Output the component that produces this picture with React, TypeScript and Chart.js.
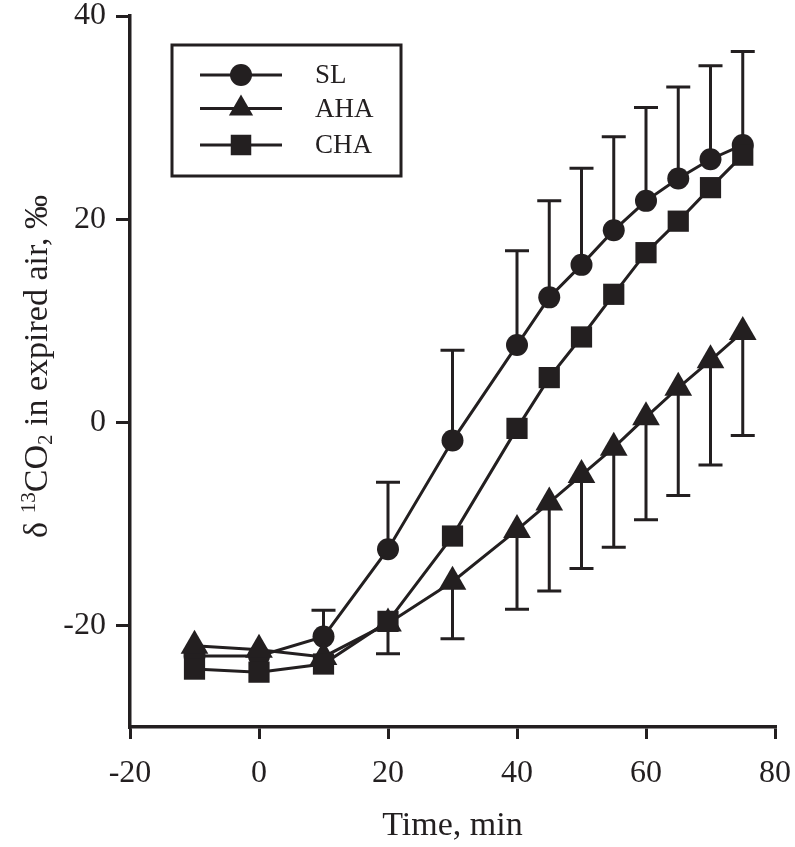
import React, { useEffect, useRef } from 'react';
import { Chart, registerables } from 'chart.js';

Chart.register(...registerables);

// ---- data ----
const times = [-10, 0, 10, 20, 30, 40, 45, 50, 55, 60, 65, 70, 75];
const slValues = [-23.0, -23.0, -21.1, -12.5, -1.8, 7.6, 12.3, 15.5, 18.9, 21.8, 24.0, 25.9, 27.3];
const slErrorTop = [null, null, -18.5, -5.9, 7.1, 16.9, 21.8, 25.0, 28.1, 31.0, 33.0, 35.1, 36.5];
const ahaValues = [-22.0, -22.4, -23.1, -19.8, -15.7, -10.6, -7.9, -5.2, -2.5, 0.5, 3.4, 6.1, 8.9];
const ahaErrorBottom = [null, null, null, -22.8, -21.3, -18.4, -16.6, -14.4, -12.3, -9.6, -7.2, -4.2, -1.3];
const chaValues = [-24.3, -24.6, -23.8, -19.6, -11.2, -0.6, 4.4, 8.4, 12.6, 16.7, 19.8, 23.1, 26.3];
const seriesLabels = ['SL', 'AHA', 'CHA'];
const xTicks = [-20, 0, 20, 40, 60, 80];
const yTicks = [-20, 0, 20, 40];
const xTitle = 'Time, min';

const INK = '#231f20';
const FONT = '"Liberation Serif", "Times New Roman", Times, serif';

function drawMarker(ctx: CanvasRenderingContext2D, style: string, x: number, y: number, r: number) {
  ctx.beginPath();
  if (style === 'circle') {
    ctx.arc(x, y, r, 0, Math.PI * 2);
  } else if (style === 'triangle') {
    let rad = 0;
    const t = (2 * Math.PI) / 3;
    ctx.moveTo(x + Math.sin(rad) * r, y - Math.cos(rad) * r);
    rad += t;
    ctx.lineTo(x + Math.sin(rad) * r, y - Math.cos(rad) * r);
    rad += t;
    ctx.lineTo(x + Math.sin(rad) * r, y - Math.cos(rad) * r);
    ctx.closePath();
  } else {
    const s = Math.SQRT1_2 * r;
    ctx.rect(x - s, y - s, 2 * s, 2 * s);
  }
  ctx.fill();
}

export default function App() {
  const ref = useRef<HTMLCanvasElement | null>(null);

  useEffect(() => {
    const canvas = ref.current;
    if (!canvas) return;

    const errorBars = {
      id: 'errorBars',
      beforeDatasetsDraw(chart: any) {
        const { ctx, scales } = chart;
        const xs = scales.x;
        const ys = scales.y;
        ctx.save();
        ctx.strokeStyle = INK;
        ctx.lineWidth = 3;
        const cap = 12;
        const draw = (vals: number[], ends: (number | null)[]) => {
          ends.forEach((e, i) => {
            if (e === null) return;
            const px = xs.getPixelForValue(times[i]);
            const p0 = ys.getPixelForValue(vals[i]);
            const p1 = ys.getPixelForValue(e);
            ctx.beginPath();
            ctx.moveTo(px, p0);
            ctx.lineTo(px, p1);
            ctx.moveTo(px - cap, p1);
            ctx.lineTo(px + cap, p1);
            ctx.stroke();
          });
        };
        draw(slValues, slErrorTop);
        draw(ahaValues, ahaErrorBottom);
        ctx.restore();
      },
    };

    const extras = {
      id: 'extras',
      afterDraw(chart: any) {
        const { ctx, chartArea } = chart;
        ctx.save();
        // legend box
        const lx = chartArea.left + 42;
        const ly = chartArea.top + 29;
        ctx.strokeStyle = INK;
        ctx.fillStyle = INK;
        ctx.lineWidth = 3;
        ctx.strokeRect(lx, ly, 229, 131);
        const rows = [30, 63.5, 100];
        const styles = ['circle', 'triangle', 'rect'];
        const radii = [11, 14, 14.5];
        ctx.font = `27px ${FONT}`;
        ctx.textBaseline = 'middle';
        ctx.textAlign = 'left';
        rows.forEach((dy, i) => {
          const yy = ly + dy;
          ctx.beginPath();
          ctx.moveTo(lx + 28, yy);
          ctx.lineTo(lx + 110, yy);
          ctx.stroke();
          drawMarker(ctx, styles[i], lx + 69, yy, radii[i]);
          ctx.fillText(seriesLabels[i], lx + 143, yy + 1);
        });

        // x title
        ctx.textAlign = 'center';
        ctx.textBaseline = 'alphabetic';
        ctx.font = `34px ${FONT}`;
        ctx.fillText(xTitle, (chartArea.left + chartArea.right) / 2, chart.height - 12);

        // y title with superscript / subscript
        const F = 34;
        const parts = [
          { t: 'δ ', s: 1, dy: 0 },
          { t: '13', s: 0.62, dy: -0.36 },
          { t: 'CO', s: 1, dy: 0 },
          { t: '2', s: 0.62, dy: 0.16 },
          { t: ' in expired air, ‰', s: 1, dy: 0 },
        ];
        let total = 0;
        const widths = parts.map((p) => {
          ctx.font = `${F * p.s}px ${FONT}`;
          const w = ctx.measureText(p.t).width;
          total += w;
          return w;
        });
        const cy = (chartArea.top + chartArea.bottom) / 2 - 5;
        ctx.translate(47, cy);
        ctx.rotate(-Math.PI / 2);
        ctx.textAlign = 'left';
        let cx = -total / 2;
        parts.forEach((p, i) => {
          ctx.font = `${F * p.s}px ${FONT}`;
          ctx.fillText(p.t, cx, p.dy * F);
          cx += widths[i];
        });
        ctx.restore();
      },
    };

    const mk = (vals: number[]) => times.map((t, i) => ({ x: t, y: vals[i] }));
    const base = {
      borderColor: INK,
      backgroundColor: INK,
      pointBackgroundColor: INK,
      pointBorderColor: INK,
      pointBorderWidth: 0,
      borderWidth: 3,
      tension: 0,
      fill: false,
    };

    const axisCommon = {
      type: 'linear' as const,
      ticks: {
        color: INK,
        font: { family: FONT, size: 32 },
      },
      grid: {
        drawOnChartArea: false,
        drawTicks: true,
        lineWidth: 3,
        color: INK,
      },
      border: { display: true, width: 3.5, color: INK },
    };

    const chart = new Chart(canvas, {
      type: 'line',
      data: {
        datasets: [
          { ...base, label: seriesLabels[0], data: mk(slValues), pointStyle: 'circle', pointRadius: 11, order: 3 },
          { ...base, label: seriesLabels[1], data: mk(ahaValues), pointStyle: 'triangle', pointRadius: 16, order: 2 },
          { ...base, label: seriesLabels[2], data: mk(chaValues), pointStyle: 'rect', pointRadius: 15, order: 1 },
        ] as any,
      },
      options: {
        animation: false,
        responsive: false,
        devicePixelRatio: 1,
        events: [],
        layout: { autoPadding: false, padding: { top: 16, right: 20, left: 0, bottom: 0 } },
        plugins: {
          legend: { display: false },
          tooltip: { enabled: false },
          title: { display: false },
        },
        scales: {
          x: {
            ...axisCommon,
            min: -20,
            max: 80,
            afterBuildTicks: (s: any) => {
              s.ticks = xTicks.map((v) => ({ value: v }));
            },
            ticks: { ...axisCommon.ticks, padding: 15, maxRotation: 0 },
            grid: { ...axisCommon.grid, tickLength: 12 },
            afterFit: (s: any) => {
              s.height = 120;
              s.paddingLeft = 0;
              s.paddingRight = 0;
            },
          },
          y: {
            ...axisCommon,
            min: -30,
            max: 40,
            afterBuildTicks: (s: any) => {
              s.ticks = yTicks.map((v) => ({ value: v }));
            },
            ticks: { ...axisCommon.ticks, padding: 10 },
            grid: { ...axisCommon.grid, tickLength: 14 },
            afterFit: (s: any) => {
              s.width = 130;
              s.paddingTop = 0;
              s.paddingBottom = 0;
            },
          },
        },
      } as any,
      plugins: [errorBars, extras],
    });

    return () => chart.destroy();
  }, []);

  return (
    <div style={{ position: 'fixed', left: 0, top: 0, width: 795, height: 847, background: '#fff' }}>
      <canvas ref={ref} width={795} height={847} style={{ display: 'block' }} />
    </div>
  );
}
